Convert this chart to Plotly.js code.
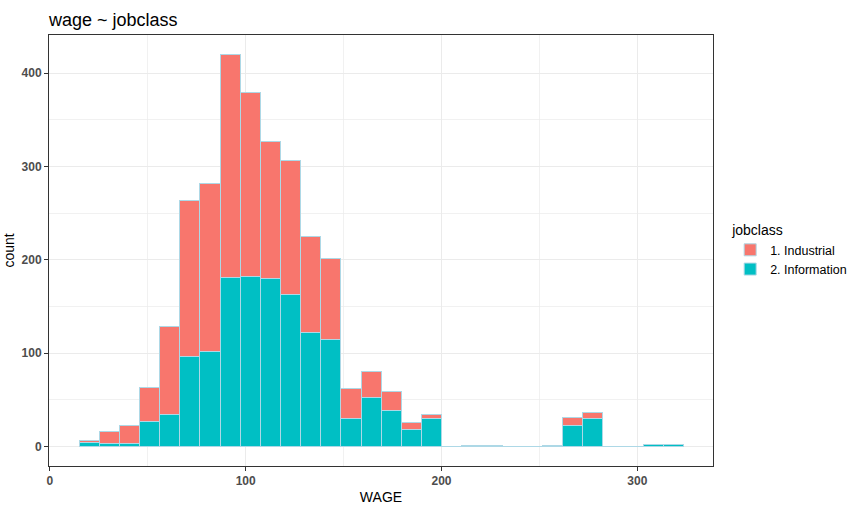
<!DOCTYPE html>
<html>
<head>
<meta charset="utf-8">
<script src="https://cdn.plot.ly/plotly-3.0.1.min.js"></script>
<style>
  body { margin: 0; background: #fff; }
  #plot { width: 853px; height: 509px; }
</style>
</head>
<body>
<div id="plot"></div>
<script>
// bin centres of the wage histogram (30 bins, width ~10.28)
var binCenters = [20.09, 30.37, 40.66, 50.94, 61.23, 71.51, 81.80, 92.08, 102.36, 112.65,
  122.93, 133.22, 143.50, 153.79, 164.07, 174.36, 184.64, 194.92, 205.21, 215.49,
  225.78, 236.06, 246.35, 256.63, 266.91, 277.20, 287.48, 297.77, 308.05, 318.34];
var binWidth = 10.284;

// counts
var industrial = [2, 13, 19, 36, 95, 168, 180, 239, 197, 147,
  143, 103, 86, 32, 28, 21, 8, 4, 0, 1,
  1, 0, 0, 1, 9, 6, 0, 0, 0, 0];
var information = [4, 3, 3, 27, 34, 96, 102, 181, 182, 180,
  163, 122, 115, 30, 52, 38, 18, 30, 0, 0,
  0, 0, 0, 0, 22, 30, 0, 0, 2, 2];

var xTicks = [0, 100, 200, 300];
var yTicks = [0, 100, 200, 300, 400];

var outline = { color: '#ADD8E6', width: 1 };

// Information goes first so it sits at the bottom of the stack
var infoTrace = {
  x: binCenters,
  y: information,
  width: binWidth,
  type: 'bar',
  name: '2. Information',
  marker: { color: '#00BFC4', line: outline },
  hoverinfo: 'x+y+name'
};
var indTrace = {
  x: binCenters,
  y: industrial,
  width: binWidth,
  type: 'bar',
  name: '1. Industrial',
  marker: { color: '#F8766D', line: outline },
  hoverinfo: 'x+y+name'
};

var tickFont = { family: 'Liberation Sans, Arial, sans-serif', size: 12, color: '#4D4D4D', weight: 'bold' };

var layout = {
  width: 853,
  height: 509,
  margin: { l: 49, r: 140, t: 35, b: 43, autoexpand: false },
  paper_bgcolor: '#FFFFFF',
  plot_bgcolor: '#FFFFFF',
  barmode: 'stack',
  bargap: 0,
  font: { family: 'Liberation Sans, Arial, sans-serif', color: '#000000' },
  title: {
    text: 'wage ~ jobclass',
    font: { size: 18, color: '#000000' },
    x: 0, xref: 'paper', xanchor: 'left',
    y: 0.962, yanchor: 'middle'
  },
  xaxis: {
    range: [-0.4, 338.6],
    tickvals: xTicks,
    ticktext: xTicks.map(String),
    tickfont: tickFont,
    ticks: 'outside',
    ticklen: 4,
    tickcolor: '#333333',
    showgrid: true,
    gridcolor: '#EBEBEB',
    gridwidth: 1,
    minor: { dtick: 50, tick0: 50, showgrid: true, gridcolor: '#EBEBEB', gridwidth: 0.7 },
    zeroline: false,
    showline: true,
    linecolor: '#333333',
    linewidth: 1,
    mirror: true,
    title: { text: 'WAGE', font: { size: 14, color: '#000000' }, standoff: 4 }
  },
  yaxis: {
    range: [-21, 441],
    tickvals: yTicks,
    ticktext: yTicks.map(String),
    tickfont: tickFont,
    ticks: 'outside',
    ticklen: 4,
    tickcolor: '#333333',
    showgrid: true,
    gridcolor: '#EBEBEB',
    gridwidth: 1,
    minor: { dtick: 50, tick0: 50, showgrid: true, gridcolor: '#EBEBEB', gridwidth: 0.7 },
    zeroline: false,
    showline: true,
    linecolor: '#333333',
    linewidth: 1,
    mirror: true,
    title: { text: 'count', font: { size: 14, color: '#000000' }, standoff: 3 }
  },
  legend: {
    title: { text: 'jobclass', font: { size: 14, color: '#000000' } },
    font: { size: 12.5, color: '#000000' },
    traceorder: 'reversed',
    xref: 'container',
    x: 0.856, xanchor: 'left',
    y: 0.5, yanchor: 'middle',
    bgcolor: 'rgba(0,0,0,0)',
    tracegroupgap: 0
  },
  showlegend: true
};

Plotly.newPlot('plot', [infoTrace, indTrace], layout, { displayModeBar: false, staticPlot: true });
</script>
</body>
</html>
